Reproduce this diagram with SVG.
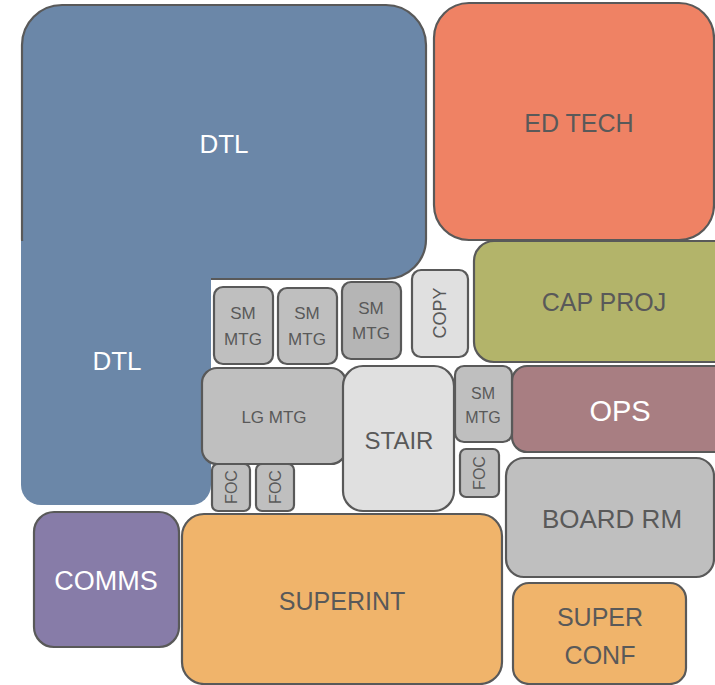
<svg xmlns="http://www.w3.org/2000/svg" width="715" height="685" viewBox="0 0 715 685">
<style>
.b{stroke:#595959;stroke-width:2.2}
.t{font-family:"Liberation Sans",Arial,sans-serif;fill:#595959;text-anchor:middle}
.w{fill:#ffffff}
.g{fill:#bfbfbf}
.lg{fill:#e0e0e0}
</style>
<rect width="715" height="685" fill="#ffffff"/>
<g id="connectors"></g>
<g id="dtl">
<rect class="b" x="22" y="5" width="404" height="274" rx="40" fill="#6b87a8"/>
<path d="M21,241 H211 V485 A20,20 0 0 1 191,505 H41 A20,20 0 0 1 21,485 Z" fill="#6b87a8"/>
<text class="t w" x="224" y="153" font-size="26">DTL</text>
<text class="t w" x="117" y="370" font-size="26">DTL</text>
</g>
<g id="edtech">
<rect class="b" x="434" y="3" width="280" height="237" rx="35" fill="#ef8264"/>
<text class="t" x="579" y="132" font-size="25">ED TECH</text>
</g>
<g id="capproj">
<rect class="b" x="474" y="241" width="270" height="121" rx="20" fill="#b3b46a"/>
<text class="t" x="604" y="311" font-size="25">CAP PROJ</text>
</g>
<g id="ops">
<rect class="b" x="512" y="366" width="240" height="86" rx="15" fill="#a87e82"/>
<text class="t w" x="620" y="421" font-size="29">OPS</text>
</g>
<g id="boardrm">
<rect class="b" x="506" y="458" width="208" height="119" rx="18" fill="#bfbfbf"/>
<text class="t" x="612" y="528" font-size="26">BOARD RM</text>
</g>
<g id="superconf">
<rect class="b" x="513" y="583" width="173" height="101" rx="16" fill="#f0b46b"/>
<text class="t" x="600" y="626" font-size="25">SUPER</text>
<text class="t" x="600" y="664" font-size="25">CONF</text>
</g>
<g id="comms">
<rect class="b" x="34" y="512" width="145" height="135" rx="20" fill="#877ca8"/>
<text class="t w" x="106" y="590" font-size="27">COMMS</text>
</g>
<g id="superint">
<rect class="b" x="182" y="514" width="320" height="170" rx="22" fill="#f0b46b"/>
<text class="t" x="342" y="610" font-size="25">SUPERINT</text>
</g>
<g id="smmtg1">
<rect class="b g" x="214" y="287" width="59" height="77" rx="9"/>
<text class="t" x="243" y="319" font-size="17">SM</text>
<text class="t" x="243" y="345" font-size="17">MTG</text>
</g>
<g id="smmtg2">
<rect class="b g" x="278" y="288" width="59" height="76" rx="9"/>
<text class="t" x="307" y="319" font-size="17">SM</text>
<text class="t" x="307" y="345" font-size="17">MTG</text>
</g>
<g id="smmtg3">
<rect class="b" x="342" y="282" width="59" height="77" rx="9" fill="#b5b5b5"/>
<text class="t" x="371" y="314" font-size="17">SM</text>
<text class="t" x="371" y="339" font-size="17">MTG</text>
</g>
<g id="copy">
<rect class="b lg" x="412" y="270" width="56" height="87" rx="9"/>
<text class="t" x="0" y="0" font-size="18" transform="translate(446,313) rotate(-90)">COPY</text>
</g>
<g id="lgmtg">
<rect class="b g" x="202" y="368" width="144" height="96" rx="15"/>
<text class="t" x="274" y="423" font-size="17">LG MTG</text>
</g>
<g id="stair">
<rect class="b lg" x="343" y="366" width="111" height="145" rx="20"/>
<text class="t" x="399" y="449" font-size="24">STAIR</text>
</g>
<g id="smmtg4">
<rect class="b g" x="455" y="366" width="57" height="76" rx="9"/>
<text class="t" x="483" y="399" font-size="16">SM</text>
<text class="t" x="483" y="423" font-size="16">MTG</text>
</g>
<g id="foc1">
<rect class="b g" x="212" y="464" width="38" height="47" rx="6"/>
<text class="t" x="0" y="0" font-size="16" transform="translate(237,487) rotate(-90)">FOC</text>
</g>
<g id="foc2">
<rect class="b g" x="256" y="464" width="38" height="47" rx="6"/>
<text class="t" x="0" y="0" font-size="16" transform="translate(281,487) rotate(-90)">FOC</text>
</g>
<g id="foc3">
<rect class="b g" x="460" y="449" width="39" height="48" rx="6"/>
<text class="t" x="0" y="0" font-size="16" transform="translate(485,473) rotate(-90)">FOC</text>
</g>
</svg>
